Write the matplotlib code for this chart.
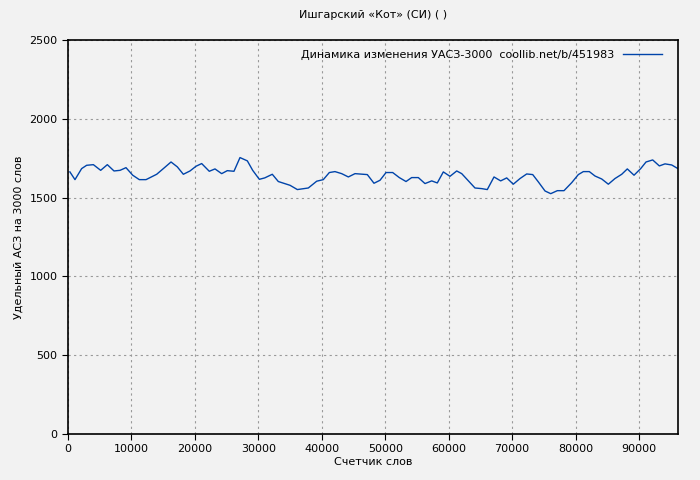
import matplotlib
matplotlib.use("Agg")
import matplotlib.pyplot as plt

words = [300,1100,2150,2940,4000,5150,6200,7250,8200,9140,10200,11240,12300,13980,15030,16240,17230,18180,19230,20180,21070,22270,23170,24220,25110,26160,27110,28270,29110,30160,31010,32200,33150,35000,36150,37880,39200,40240,41190,42080,43140,44190,45240,47180,48230,49180,50130,51180,52220,53280,54170,55220,56270,57330,58210,59160,60210,61270,62060,64150,65210,66090,67150,68200,69150,70190,71250,72300,73250,74130,75190,76090,77130,78180,79400,80440,81230,82170,83070,84130,85170,86220,87280,88160,89220,90270,91110,92160,93210,94100,95160,96050]
vals = [1663,1614,1684,1705,1709,1673,1709,1669,1673,1690,1642,1614,1614,1648,1684,1726,1695,1648,1669,1699,1716,1667,1682,1652,1671,1667,1754,1733,1673,1616,1625,1648,1602,1578,1551,1561,1604,1614,1659,1665,1652,1631,1652,1646,1591,1610,1659,1659,1627,1602,1627,1627,1589,1606,1593,1663,1635,1669,1652,1561,1557,1551,1631,1606,1625,1585,1621,1650,1646,1600,1542,1525,1544,1544,1595,1646,1665,1665,1637,1618,1585,1621,1648,1682,1642,1684,1726,1739,1701,1714,1707,1686]

bg = "#f2f2f2"
fig = plt.figure(figsize=(7, 4.8), dpi=100, facecolor=bg)
ax = fig.add_axes([68/700, 46/480, 610/700, 394/480], facecolor=bg)
ax.plot(words, vals, color="#0044aa", lw=1, label="Динамика изменения УАСЗ-3000  coollib.net/b/451983")
ax.set_xlim(0, 96150)
ax.set_ylim(0, 2500)
ax.set_xticks(range(0, 90001, 10000))
ax.set_yticks(range(0, 2501, 500))
ax.tick_params(labelsize=8, direction="out", length=4)
ax.grid(True, color="#999999", linestyle=(0, (2, 3)), lw=0.8)
for s in ax.spines.values():
    s.set_linewidth(1.2)
ax.set_xlabel("Счетчик слов", fontsize=8, labelpad=2)
ax.set_ylabel("Удельный АСЗ на 3000 слов", fontsize=8)
ax.set_title("Ишгарский «Кот» (СИ) ( )", fontsize=8, pad=16)
leg = ax.legend(loc="upper right", fontsize=8, frameon=False, handlelength=3.5,
                markerfirst=False, bbox_to_anchor=(0.99, 1.0))
fig.savefig("out.png", dpi=100, facecolor=bg)
